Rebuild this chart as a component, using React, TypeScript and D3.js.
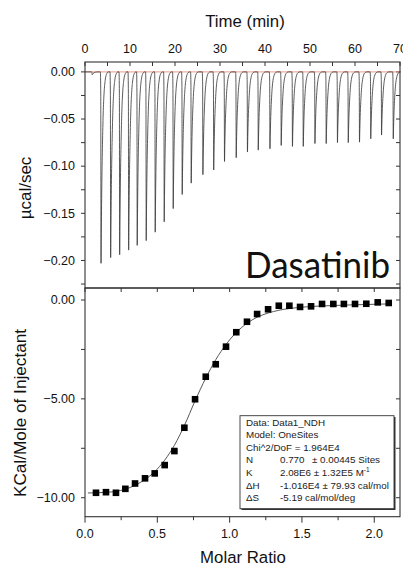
import React from 'react';
import * as d3 from 'd3';

// ---------- Data: raw thermogram (top panel) ----------
const injectionTimes = [3.56, 5.7, 7.7, 9.7, 11.6, 13.6, 15.6, 17.6, 19.6, 21.6, 23.6, 26.2, 28.6, 31.0, 33.6, 36.1, 38.5, 41.1, 43.6, 46.1, 48.5, 51.1, 53.6, 56.1, 58.5, 61.0, 63.5, 65.9, 68.5];
const peakDepths = [-0.203, -0.197, -0.194, -0.189, -0.184, -0.179, -0.170, -0.159, -0.145, -0.130, -0.118, -0.109, -0.104, -0.095, -0.091, -0.085, -0.083, -0.0815, -0.078, -0.079, -0.079, -0.076, -0.076, -0.075, -0.075, -0.0745, -0.071, -0.067, -0.071];
const preInjectionTime = 1.6;
const preInjectionDepth = -0.003;
// peak shape template: [minutes from peak minimum, fraction of depth]
const peakProfile: [number, number][] = [[-0.14, 0], [-0.06, 0.12], [0, 1], [0.07, 0.82], [0.18, 0.58], [0.32, 0.38], [0.48, 0.22], [0.68, 0.11], [0.92, 0.045], [1.25, 0.01], [1.6, 0]];

// ---------- Data: integrated heats (bottom panel) ----------
const molarRatio = [0.076, 0.145, 0.214, 0.279, 0.346, 0.415, 0.482, 0.551, 0.618, 0.687, 0.761, 0.835, 0.904, 0.975, 1.046, 1.12, 1.19, 1.266, 1.34, 1.413, 1.487, 1.563, 1.639, 1.717, 1.79, 1.867, 1.945, 2.024, 2.1];
const heatPerMole = [-9.75, -9.72, -9.75, -9.55, -9.28, -9.02, -8.77, -8.35, -7.64, -6.46, -5.02, -3.88, -3.25, -2.36, -1.63, -1.10, -0.71, -0.47, -0.29, -0.29, -0.35, -0.32, -0.20, -0.20, -0.20, -0.20, -0.19, -0.12, -0.15];
const fitRatio = [0.02, 0.076, 0.145, 0.214, 0.279, 0.346, 0.415, 0.482, 0.551, 0.618, 0.687, 0.761, 0.835, 0.904, 0.975, 1.046, 1.12, 1.19, 1.266, 1.34, 1.413, 1.487, 1.563, 1.639, 1.717, 1.79, 1.867, 1.945, 2.024, 2.1];
const fitHeat = [-9.76, -9.75, -9.73, -9.68, -9.57, -9.37, -9.08, -8.68, -8.1, -7.35, -6.35, -5.1, -3.95, -3.02, -2.25, -1.64, -1.18, -0.87, -0.66, -0.52, -0.43, -0.37, -0.33, -0.3, -0.28, -0.26, -0.24, -0.23, -0.21, -0.2];

// ---------- Ticks & labels ----------
const timeTickLabels = [0, 10, 20, 30, 40, 50, 60, 70];
const timeMinorTicks = d3.range(0, 71, 5);
const rateTickLabels = [0, -0.05, -0.1, -0.15, -0.2];
const rateMinorTicks = d3.range(0, -0.23, -0.025);
const ratioTickLabels = [0, 0.5, 1, 1.5, 2];
const ratioMinorTicks = d3.range(0, 2.18, 0.25);
const heatTickLabels = [0, -5, -10];
const heatMinorTicks = [0, -2.5, -5, -7.5, -10];

// legend rows: [label, value, extra column]
const legendRows: [string, string, string][] = [
  ['Data: Data1_NDH', '', ''],
  ['Model: OneSites', '', ''],
  ['Chi^2/DoF = 1.964E4', '', ''],
  ['N', '0.770', '\u00b1 0.00445 Sites'],
  ['K', '2.08E6 \u00b1 1.32E5 M', ''],
  ['\u0394H', '-1.016E4 \u00b1 79.93 cal/mol', ''],
  ['\u0394S', '-5.19 cal/mol/deg', ''],
];

const FONT = '"Liberation Sans", Arial, Helvetica, sans-serif';
const AXIS = '#333';

export default function App() {
  const W = 403, H = 566;
  const left = 85, right = 400;
  const topT = 62, midY = 288, botY = 516.7;

  const xTime = d3.scaleLinear().domain([0, 70]).range([left, right]);
  const yRate = d3.scaleLinear().domain([-0.2292, 0.0105]).range([midY, topT]);
  const xRatio = d3.scaleLinear().domain([0, 2.178]).range([left, right]);
  const yHeat = d3.scaleLinear().domain([-10.96, 0.607]).range([botY, midY]);

  // build thermogram trace
  const tracePts: [number, number][] = [[0, 0]];
  peakProfile.forEach(([dt, f]) => tracePts.push([preInjectionTime + dt, preInjectionDepth * f]));
  injectionTimes.forEach((t, i) => {
    peakProfile.forEach(([dt, f]) => tracePts.push([t + dt, peakDepths[i] * f]));
  });
  tracePts.push([70, 0]);
  const traceLine = d3.line<[number, number]>()
    .x(d => xTime(d[0])).y(d => yRate(d[1])).curve(d3.curveMonotoneX);

  const fitLine = d3.line<number>()
    .x((_, i) => xRatio(fitRatio[i])).y(d => yHeat(d)).curve(d3.curveMonotoneX);

  const fmt2 = d3.format('.2f');
  const fmt1 = d3.format('.1f');
  const sq = 6.6;

  return (
    <svg width={W} height={H} style={{ position: 'absolute', left: 0, top: 0, background: '#fff' }}
      fontFamily={FONT}>
      <rect x={0} y={0} width={W} height={H} fill="#fff" />
      {/* ---------- Top panel ---------- */}
      <text x={245} y={27} fontSize={16.8} textAnchor="middle" fill="#111">Time (min)</text>
      {timeTickLabels.map(t => (
        <text key={'tl' + t} x={xTime(t)} y={52.5} fontSize={12.5} textAnchor="middle" fill="#111">{t}</text>
      ))}
      {timeMinorTicks.map(t => (
        <line key={'tt' + t} x1={xTime(t)} x2={xTime(t)} y1={topT} y2={topT + 4} stroke={AXIS} strokeWidth={1} />
      ))}
      {rateMinorTicks.map((v, i) => (
        <g key={'rt' + i}>
          <line x1={left - 4} x2={left} y1={yRate(v)} y2={yRate(v)} stroke={AXIS} strokeWidth={1} />
          <line x1={right - 4} x2={right} y1={yRate(v)} y2={yRate(v)} stroke={AXIS} strokeWidth={1} />
        </g>
      ))}
      {rateTickLabels.map(v => (
        <text key={'rl' + v} x={75} y={yRate(v) + 4.3} fontSize={12.5} textAnchor="end" fill="#111">{fmt2(v)}</text>
      ))}
      <text transform={`translate(31,188) rotate(-90)`} fontSize={17} textAnchor="middle" fill="#111">µcal/sec</text>
      <line x1={left} x2={right} y1={yRate(0)} y2={yRate(0)} stroke="#e8907a" strokeWidth={0.9} />
      <path d={traceLine(tracePts) || ''} fill="none" stroke="#333" strokeWidth={0.8} />
      <text x={245} y={278.3} fontSize={36} fontFamily='Lato, "Open Sans", sans-serif' textLength={145}
        lengthAdjust="spacingAndGlyphs" fill="#111">Dasatinib</text>
      <rect x={left} y={topT} width={right - left} height={midY - topT} fill="none" stroke={AXIS} strokeWidth={1.1} />

      {/* ---------- Bottom panel ---------- */}
      {ratioMinorTicks.map((v, i) => (
        <g key={'xt' + i}>
          <line x1={xRatio(v)} x2={xRatio(v)} y1={midY} y2={midY + 4} stroke={AXIS} strokeWidth={1} />
          <line x1={xRatio(v)} x2={xRatio(v)} y1={botY} y2={botY + (i % 2 === 0 ? 6 : 3.5)} stroke={AXIS} strokeWidth={1} />
        </g>
      ))}
      {ratioTickLabels.map(v => (
        <text key={'xl' + v} x={xRatio(v)} y={537.5} fontSize={12.5} textAnchor="middle" fill="#111">{fmt1(v)}</text>
      ))}
      {heatMinorTicks.map((v, i) => (
        <g key={'ht' + i}>
          <line x1={left - 4} x2={left} y1={yHeat(v)} y2={yHeat(v)} stroke={AXIS} strokeWidth={1} />
          <line x1={right - 4} x2={right} y1={yHeat(v)} y2={yHeat(v)} stroke={AXIS} strokeWidth={1} />
        </g>
      ))}
      {heatTickLabels.map(v => (
        <text key={'hl' + v} x={75} y={yHeat(v) + 4.3} fontSize={12.5} textAnchor="end" fill="#111">{fmt2(v)}</text>
      ))}
      <text transform={`translate(26,413) rotate(-90)`} fontSize={17.2} textAnchor="middle" fill="#111">KCal/Mole of Injectant</text>
      <text x={243} y={562.5} fontSize={16.8} textAnchor="middle" fill="#111">Molar Ratio</text>
      <path d={fitLine(fitHeat) || ''} fill="none" stroke="#444" strokeWidth={0.9} />
      {heatPerMole.map((v, i) => (
        <rect key={'p' + i} x={xRatio(molarRatio[i]) - sq / 2} y={yHeat(v) - sq / 2} width={sq} height={sq} fill="#000" />
      ))}
      <rect x={left} y={midY} width={right - left} height={botY - midY} fill="none" stroke={AXIS} strokeWidth={1.1} />

      {/* legend */}
      <rect x={241.5} y={417} width={154} height={93} fill="#333" />
      <rect x={240} y={415.7} width={154} height={93} fill="#fff" stroke="#333" strokeWidth={0.9} />
      {legendRows.map(([a, b, c], i) => (
        <g key={'lg' + i} fontSize={9.8} fill="#222">
          <text x={246} y={425.5 + i * 12.6}>{a}</text>
          {b && (
            <text x={280} y={425.5 + i * 12.6}>
              {b}
              {i === 4 && <tspan fontSize={6.5} dy={-4}>-1</tspan>}
            </text>
          )}
          {c && <text x={312} y={425.5 + i * 12.6}>{c}</text>}
        </g>
      ))}
    </svg>
  );
}
